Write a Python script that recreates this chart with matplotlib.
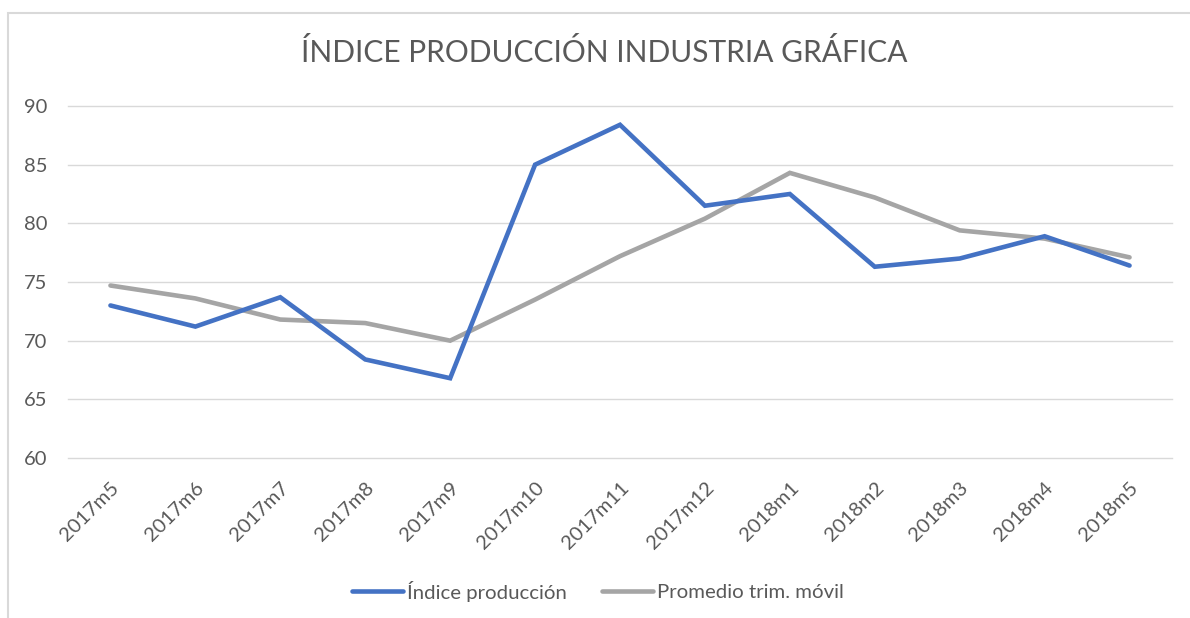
import matplotlib
matplotlib.use("Agg")
import matplotlib.pyplot as plt
from matplotlib.patches import Rectangle

categories = ["2017m5", "2017m6", "2017m7", "2017m8", "2017m9", "2017m10", "2017m11",
              "2017m12", "2018m1", "2018m2", "2018m3", "2018m4", "2018m5"]
indice = [73.0, 71.2, 73.7, 68.4, 66.8, 85.0, 88.4, 81.5, 82.5, 76.3, 77.0, 78.9, 76.4]
promedio = [74.7, 73.6, 71.8, 71.5, 70.0, 73.5, 77.2, 80.4, 84.3, 82.2, 79.4, 78.7, 77.1]
yticks = [60, 65, 70, 75, 80, 85, 90]

title = "ÍNDICE PRODUCCIÓN INDUSTRIA GRÁFICA"
labels = ["Índice producción", "Promedio trim. móvil"]

TXT = "#595959"
plt.rcParams['font.family'] = ['Lato', 'DejaVu Sans']

fig = plt.figure(figsize=(11.9, 6.18), dpi=100)
fig.patch.set_facecolor("white")
# chart border (Excel chart area)
fig.patches.append(Rectangle((8/1190, -0.05), 1.2, 1 - 13/618 + 0.05, transform=fig.transFigure,
                             fill=False, edgecolor="#D9D9D9", linewidth=1.5))

ax = fig.add_axes([68/1190, 1 - 458/618, (1172 - 68)/1190, (458 - 106)/618])
x = list(range(len(categories)))
ax.plot(x, indice, color="#4472C4", linewidth=3.3, solid_capstyle="round",
        solid_joinstyle="miter", label=labels[0], zorder=3)
ax.plot(x, promedio, color="#A5A5A5", linewidth=3.3, solid_capstyle="round",
        solid_joinstyle="miter", label=labels[1], zorder=2)

ax.set_xlim(-0.5, len(categories) - 0.5)
ax.set_ylim(60, 90)
ax.set_yticks(yticks)
ax.set_yticklabels([str(v) for v in yticks], fontsize=14.5, color=TXT)
ax.set_xticks(x)
ax.set_xticklabels(categories, rotation=45, ha="right", rotation_mode="anchor",
                   fontsize=14.5, color=TXT)
ax.tick_params(axis="both", length=0)
ax.tick_params(axis="y", pad=15)
ax.tick_params(axis="x", pad=15)
ax.grid(axis="y", color="#D9D9D9", linewidth=1.0)
for gl in ax.get_ygridlines():
    gl.set_clip_on(False)
ax.set_axisbelow(True)
for s in ax.spines.values():
    s.set_visible(False)

fig.text(604/1190, 1 - 52/618, title, ha="center", va="center", fontsize=21.5,
         color=TXT, fontweight="normal")

leg = fig.legend(loc="center", bbox_to_anchor=(598/1190, 1 - 591/618), ncol=2,
                 frameon=False, fontsize=14.7, handlelength=2.5, handletextpad=0.2,
                 columnspacing=1.7)
for t in leg.get_texts():
    t.set_color(TXT)

fig.savefig("out.png", dpi=100, facecolor="white")
